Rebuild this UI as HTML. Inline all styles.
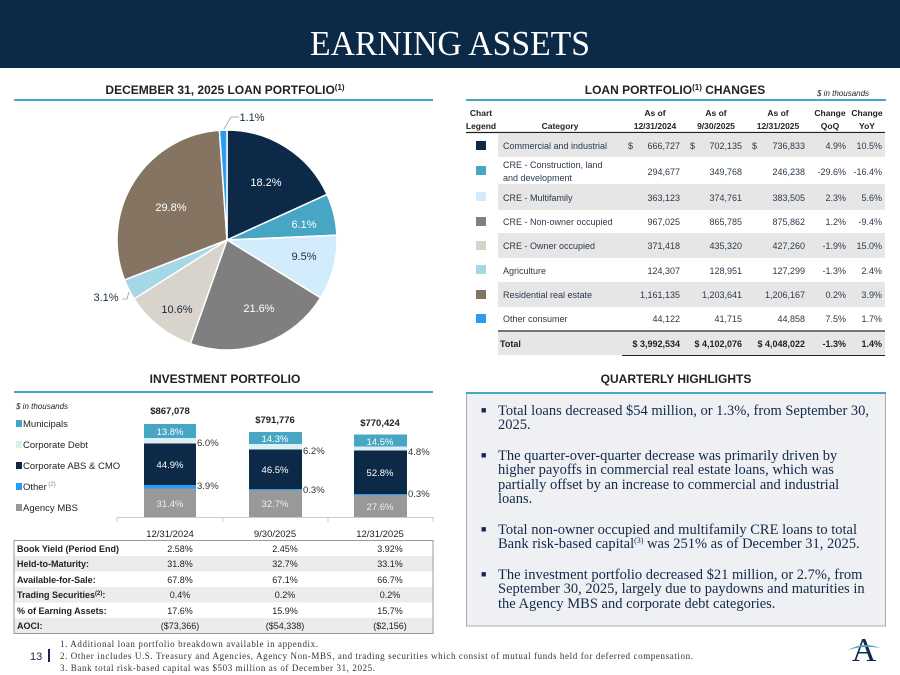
<!DOCTYPE html>
<html><head><meta charset="utf-8"><style>
html,body{margin:0;padding:0;background:#fff;}
svg{display:block;}
.s{font-family:"Liberation Sans",sans-serif;}
.r{font-family:"Liberation Serif",serif;}
</style></head><body>
<svg width="900" height="675" viewBox="0 0 900 675" xmlns="http://www.w3.org/2000/svg" class="s">
<rect x="0" y="0" width="900" height="68" fill="#0b2a47"/>
<text x="310" y="55" class="r" font-size="35" fill="#fff" textLength="280" lengthAdjust="spacingAndGlyphs">EARNING ASSETS</text>

<text x="225" y="94" text-anchor="middle" font-size="12" font-weight="bold" fill="#222">DECEMBER 31, 2025 LOAN PORTFOLIO<tspan font-size="8" dy="-4">(1)</tspan></text>
<line x1="14" y1="100" x2="433" y2="100" stroke="#45a7c4" stroke-width="2"/>

<g stroke="#fff" stroke-width="1.5">
<path d="M227,240 L227,130 A110,110 0 0 1 327.1,194.4 Z" fill="#0c2947"/>
<path d="M227,240 L327.1,194.4 A110,110 0 0 1 336.9,235.2 Z" fill="#46a6c3"/>
<path d="M227,240 L336.9,235.2 A110,110 0 0 1 320.6,297.8 Z" fill="#d3ecfb"/>
<path d="M227,240 L320.6,297.8 A110,110 0 0 1 190.4,343.7 Z" fill="#7f7f7f"/>
<path d="M227,240 L190.4,343.7 A110,110 0 0 1 134.1,298.9 Z" fill="#d8d3cb"/>
<path d="M227,240 L134.1,298.9 A110,110 0 0 1 124.5,279.9 Z" fill="#a6d7e6"/>
<path d="M227,240 L124.5,279.9 A110,110 0 0 1 219.4,130.3 Z" fill="#857461"/>
<path d="M227,240 L219.4,130.3 A110,110 0 0 1 227,130 Z" fill="#2a9df0"/>
</g>
<g font-size="11">
<text x="266" y="186" text-anchor="middle" fill="#fff">18.2%</text>
<text x="304" y="228" text-anchor="middle" fill="#fff">6.1%</text>
<text x="304" y="260" text-anchor="middle" fill="#1a2b40">9.5%</text>
<text x="259" y="312" text-anchor="middle" fill="#fff">21.6%</text>
<text x="177" y="313" text-anchor="middle" fill="#1a2b40">10.6%</text>
<text x="171" y="211" text-anchor="middle" fill="#fff">29.8%</text>
<text x="106" y="301" text-anchor="middle" fill="#1a2b40">3.1%</text>
<text x="252" y="121" text-anchor="middle" fill="#1a2b40">1.1%</text>
</g>
<polyline points="122,299 127,299 129,292" fill="none" stroke="#999" stroke-width="0.8"/>
<polyline points="239,117 231,117 224,129" fill="none" stroke="#999" stroke-width="0.8"/>

<text x="675" y="94" text-anchor="middle" font-size="12" font-weight="bold" fill="#222">LOAN PORTFOLIO<tspan font-size="8" dy="-4">(1)</tspan><tspan dy="4"> CHANGES</tspan></text>
<text x="817" y="96" font-size="8" font-style="italic" fill="#222">$ in thousands</text>
<line x1="466" y1="100" x2="886" y2="100" stroke="#45a7c4" stroke-width="2"/>
<g font-size="8.5" font-weight="bold" fill="#222" text-anchor="middle">
<text x="481" y="116">Chart</text><text x="481" y="129">Legend</text>
<text x="560" y="129">Category</text>
<text x="655" y="116">As of</text><text x="655" y="129">12/31/2024</text>
<text x="716" y="116">As of</text><text x="716" y="129">9/30/2025</text>
<text x="778" y="116">As of</text><text x="778" y="129">12/31/2025</text>
<text x="830" y="116">Change</text><text x="830" y="129">QoQ</text>
<text x="867" y="116">Change</text><text x="867" y="129">YoY</text>
</g>
<line x1="466" y1="132.5" x2="885" y2="132.5" stroke="#222" stroke-width="1.2"/>
<g fill="#e6e6e6">
<rect x="498" y="134" width="387" height="23"/>
<rect x="498" y="184" width="387" height="26"/>
<rect x="498" y="233" width="387" height="25"/>
<rect x="498" y="282" width="387" height="25"/>
<rect x="498" y="332" width="387" height="23"/>
</g>
<g>
<rect x="476" y="141" width="10" height="9" fill="#0c2947"/>
<rect x="476" y="166" width="10" height="9" fill="#46a6c3"/>
<rect x="476" y="192" width="10" height="9" fill="#d3ecfb"/>
<rect x="476" y="217" width="10" height="9" fill="#7f7f7f"/>
<rect x="476" y="241" width="10" height="9" fill="#d8d3cb"/>
<rect x="476" y="265" width="10" height="9" fill="#a6d7e6"/>
<rect x="476" y="290" width="10" height="9" fill="#857461"/>
<rect x="476" y="314" width="10" height="9" fill="#2a9df0"/>
</g>
<g font-size="9" fill="#2a3a4a">
<text x="503" y="149">Commercial and industrial</text>
<text x="503" y="168">CRE - Construction, land</text><text x="503" y="181">and development</text>
<text x="503" y="201">CRE - Multifamily</text>
<text x="503" y="225">CRE - Non-owner occupied</text>
<text x="503" y="249">CRE - Owner occupied</text>
<text x="503" y="274">Agriculture</text>
<text x="503" y="298">Residential real estate</text>
<text x="503" y="322">Other consumer</text>
<text x="628" y="149">$</text><text x="690" y="149">$</text><text x="752" y="149">$</text>
</g>
<g font-size="9" fill="#2a3a4a" text-anchor="end">
<text x="680" y="149">666,727</text><text x="742" y="149">702,135</text><text x="805" y="149">736,833</text><text x="846" y="149">4.9%</text><text x="882" y="149">10.5%</text>
<text x="680" y="175">294,677</text><text x="742" y="175">349,768</text><text x="805" y="175">246,238</text><text x="846" y="175">-29.6%</text><text x="882" y="175">-16.4%</text>
<text x="680" y="201">363,123</text><text x="742" y="201">374,761</text><text x="805" y="201">383,505</text><text x="846" y="201">2.3%</text><text x="882" y="201">5.6%</text>
<text x="680" y="225">967,025</text><text x="742" y="225">865,785</text><text x="805" y="225">875,862</text><text x="846" y="225">1.2%</text><text x="882" y="225">-9.4%</text>
<text x="680" y="249">371,418</text><text x="742" y="249">435,320</text><text x="805" y="249">427,260</text><text x="846" y="249">-1.9%</text><text x="882" y="249">15.0%</text>
<text x="680" y="274">124,307</text><text x="742" y="274">128,951</text><text x="805" y="274">127,299</text><text x="846" y="274">-1.3%</text><text x="882" y="274">2.4%</text>
<text x="680" y="298">1,161,135</text><text x="742" y="298">1,203,641</text><text x="805" y="298">1,206,167</text><text x="846" y="298">0.2%</text><text x="882" y="298">3.9%</text>
<text x="680" y="322">44,122</text><text x="742" y="322">41,715</text><text x="805" y="322">44,858</text><text x="846" y="322">7.5%</text><text x="882" y="322">1.7%</text>
</g>
<line x1="498" y1="331" x2="885" y2="331" stroke="#222" stroke-width="1.2"/>
<g font-size="9" font-weight="bold" fill="#222">
<text x="500" y="347">Total</text>
<text x="680" y="347" text-anchor="end">$ 3,992,534</text>
<text x="742" y="347" text-anchor="end">$ 4,102,076</text>
<text x="805" y="347" text-anchor="end">$ 4,048,022</text>
<text x="846" y="347" text-anchor="end">-1.3%</text>
<text x="882" y="347" text-anchor="end">1.4%</text>
</g>
<line x1="622" y1="355.5" x2="885" y2="355.5" stroke="#222" stroke-width="1"/>

<text x="225" y="383" text-anchor="middle" font-size="12" font-weight="bold" fill="#222">INVESTMENT PORTFOLIO</text>
<line x1="14" y1="392" x2="433" y2="392" stroke="#45a7c4" stroke-width="2"/>
<text x="16" y="409" font-size="8" font-style="italic" fill="#222">$ in thousands</text>
<g font-size="9.5" fill="#222">
<rect x="16" y="420" width="6" height="7" fill="#46a6c3"/><text x="23" y="427">Municipals</text>
<rect x="16" y="441" width="6" height="7" fill="#dceff5"/><text x="23" y="448">Corporate Debt</text>
<rect x="16" y="462" width="6" height="7" fill="#0c2947"/><text x="23" y="469">Corporate ABS &amp; CMO</text>
<rect x="16" y="483" width="6" height="7" fill="#2a9df0"/><text x="23" y="490">Other<tspan font-size="6" dy="-4" fill="#888"> (2)</tspan></text>
<rect x="16" y="504" width="6" height="7" fill="#999"/><text x="23" y="511">Agency MBS</text>
</g>
<rect x="144" y="424" width="52" height="14" fill="#46a6c3"/>
<rect x="144" y="438" width="52" height="5.5" fill="#dceff5"/>
<rect x="144" y="443.5" width="52" height="41.5" fill="#0c2947"/>
<rect x="144" y="485" width="52" height="3.5" fill="#2a9df0"/>
<rect x="144" y="488.5" width="52" height="28.5" fill="#999"/>
<rect x="249" y="432" width="53" height="12" fill="#46a6c3"/>
<rect x="249" y="444" width="53" height="5.5" fill="#dceff5"/>
<rect x="249" y="449.5" width="53" height="39.5" fill="#0c2947"/>
<rect x="249" y="489" width="53" height="1" fill="#2a9df0"/>
<rect x="249" y="490" width="53" height="27" fill="#999"/>
<rect x="354" y="434.5" width="53" height="12" fill="#46a6c3"/>
<rect x="354" y="446.5" width="53" height="4" fill="#dceff5"/>
<rect x="354" y="450.5" width="53" height="43.5" fill="#0c2947"/>
<rect x="354" y="494" width="53" height="1" fill="#2a9df0"/>
<rect x="354" y="495" width="53" height="22" fill="#999"/>
<g font-size="9.5" text-anchor="middle">
<text x="170" y="435" fill="#fff">13.8%</text><text x="170" y="468" fill="#fff">44.9%</text><text x="170" y="507" fill="#eee">31.4%</text>
<text x="275" y="442" fill="#fff">14.3%</text><text x="275" y="473" fill="#fff">46.5%</text><text x="275" y="507" fill="#eee">32.7%</text>
<text x="380" y="445" fill="#fff">14.5%</text><text x="380" y="476" fill="#fff">52.8%</text><text x="380" y="510" fill="#eee">27.6%</text>
</g>
<g font-size="9.5" fill="#333">
<text x="197" y="446">6.0%</text><text x="197" y="489">3.9%</text>
<text x="303" y="454">6.2%</text><text x="303" y="493">0.3%</text>
<text x="408" y="455">4.8%</text><text x="408" y="497">0.3%</text>
</g>
<g font-size="9.5" font-weight="bold" text-anchor="middle" fill="#222">
<text x="170" y="414">$867,078</text><text x="275" y="423">$791,776</text><text x="380" y="426">$770,424</text>
</g>
<line x1="117" y1="517.5" x2="433" y2="517.5" stroke="#ccc"/>
<g stroke="#ccc"><line x1="117" y1="517" x2="117" y2="522"/><line x1="223" y1="517" x2="223" y2="522"/><line x1="328" y1="517" x2="328" y2="522"/><line x1="433" y1="517" x2="433" y2="522"/></g>
<g font-size="9.5" text-anchor="middle" fill="#222">
<text x="170" y="537">12/31/2024</text><text x="275" y="537">9/30/2025</text><text x="380" y="537">12/31/2025</text>
</g>
<g fill="#ececec">
<rect x="14" y="556" width="419" height="15.5"/>
<rect x="14" y="587" width="419" height="15.5"/>
<rect x="14" y="618" width="419" height="15.5"/>
</g>
<rect x="14" y="540.5" width="419" height="93" fill="none" stroke="#999" stroke-width="1"/>
<g font-size="9" fill="#222">
<g font-weight="bold">
<text x="17" y="552">Book Yield (Period End)</text>
<text x="17" y="567">Held-to-Maturity:</text>
<text x="17" y="583">Available-for-Sale:</text>
<text x="17" y="598">Trading Securities<tspan font-size="6" dy="-3">(2)</tspan><tspan dy="3">:</tspan></text>
<text x="17" y="614">% of Earning Assets:</text>
<text x="17" y="629">AOCI:</text>
</g>
<g text-anchor="middle">
<text x="180" y="552">2.58%</text><text x="285" y="552">2.45%</text><text x="390" y="552">3.92%</text>
<text x="180" y="567">31.8%</text><text x="285" y="567">32.7%</text><text x="390" y="567">33.1%</text>
<text x="180" y="583">67.8%</text><text x="285" y="583">67.1%</text><text x="390" y="583">66.7%</text>
<text x="180" y="598">0.4%</text><text x="285" y="598">0.2%</text><text x="390" y="598">0.2%</text>
<text x="180" y="614">17.6%</text><text x="285" y="614">15.9%</text><text x="390" y="614">15.7%</text>
<text x="180" y="629">($73,366)</text><text x="285" y="629">($54,338)</text><text x="390" y="629">($2,156)</text>
</g>
</g>

<text x="676" y="383" text-anchor="middle" font-size="12" font-weight="bold" fill="#222">QUARTERLY HIGHLIGHTS</text>
<rect x="466.5" y="393" width="419" height="233" fill="#eef0f3" stroke="#aaa" stroke-width="1"/>
<line x1="466" y1="393" x2="886" y2="393" stroke="#45a7c4" stroke-width="2"/>
<g class="r" font-size="14.5" fill="#13294b">
<g font-size="9"><text x="481" y="413">■</text><text x="481" y="458">■</text><text x="481" y="532">■</text><text x="481" y="577">■</text></g>
<text x="498" y="415" textLength="371" lengthAdjust="spacing">Total loans decreased $54 million, or 1.3%, from September 30,</text>
<text x="498" y="429">2025.</text>
<text x="498" y="460">The quarter-over-quarter decrease was primarily driven by</text>
<text x="498" y="474">higher payoffs in commercial real estate loans, which was</text>
<text x="498" y="489">partially offset by an increase to commercial and industrial</text>
<text x="498" y="503">loans.</text>
<text x="498" y="534">Total non-owner occupied and multifamily CRE loans to total</text>
<text x="498" y="548">Bank risk-based capital<tspan font-size="8" dy="-5">(3)</tspan><tspan dy="5"> was 251% as of December 31, 2025.</tspan></text>
<text x="498" y="579">The investment portfolio decreased $21 million, or 2.7%, from</text>
<text x="498" y="593">September 30, 2025, largely due to paydowns and maturities in</text>
<text x="498" y="608">the Agency MBS and corporate debt categories.</text>
</g>

<text x="30" y="660" font-size="11" fill="#13294b">13</text>
<rect x="48" y="649" width="2" height="13" fill="#13294b"/>
<g class="r" font-size="9" fill="#333">
<text x="60" y="647" textLength="258" lengthAdjust="spacing">1. Additional loan portfolio breakdown available in appendix.</text>
<text x="60" y="659" textLength="633" lengthAdjust="spacing">2. Other includes U.S. Treasury and Agencies, Agency Non-MBS, and trading securities which consist of mutual funds held for deferred compensation.</text>
<text x="60" y="671" textLength="315" lengthAdjust="spacing">3. Bank total risk-based capital was $503 million as of December 31, 2025.</text>
</g>
<text x="864" y="661" text-anchor="middle" class="r" font-size="34" fill="#13294b">A</text>
<path d="M848,650 Q864,641 880,648 Q864,645 848,650 Z" fill="#45a7c4"/>
</svg>
</body></html>
